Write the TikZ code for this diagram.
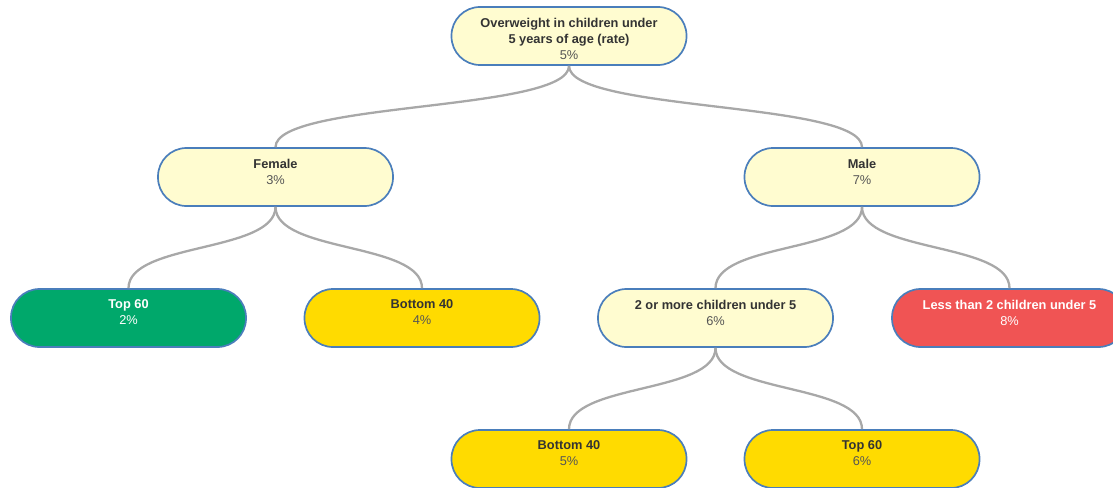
\documentclass[tikz,border=0pt]{standalone}
\usepackage{fontspec}
\setmainfont{Liberation Sans}
\usetikzlibrary{calc}
\definecolor{paleyellow}{RGB}{255,252,208}
\definecolor{edgeblue}{RGB}{74,126,187}
\definecolor{leafgreen}{RGB}{0,168,107}
\definecolor{leafyellow}{RGB}{255,219,0}
\definecolor{leafred}{RGB}{240,84,84}
\definecolor{inkdark}{RGB}{51,51,51}
\definecolor{inkgray}{RGB}{85,85,85}
\definecolor{linkgray}{RGB}{168,168,168}
\tikzset{
  box/.style={draw=edgeblue, line width=1.7pt, rounded corners=28.5pt,
    minimum width=235pt, minimum height=58pt, inner sep=0pt},
  boxpale/.style={box, fill=paleyellow},
  boxgreen/.style={box, fill=leafgreen},
  boxyellow/.style={box, fill=leafyellow},
  boxred/.style={box, fill=leafred},
  lbl/.style={anchor=north, inner sep=0pt, align=center,
    font=\fontsize{12.8pt}{16pt}\selectfont, yshift=-11.5pt},
  link/.style={draw=linkgray, line width=2.3pt},
}
\newcommand{\hd}[1]{\textbf{#1}}
\begin{document}
\begin{tikzpicture}[x=1pt,y=-1pt]
\useasboundingbox (0,0) rectangle (1113,487);
% boxes
\node[boxpale]   (root)  at (569,36)    {};
\node[boxpale]   (fem)   at (275.5,177) {};
\node[boxpale]   (male)  at (862,177)   {};
\node[boxgreen]  (topa)  at (128.5,318) {};
\node[boxyellow] (bota)  at (422,318)   {};
\node[boxpale]   (two)   at (715.5,318) {};
\node[boxred]    (less)  at (1009.5,318) {};
\node[boxyellow] (botb)  at (569,459)   {};
\node[boxyellow] (topb)  at (862,459)   {};
% labels
\node[lbl] (rootT) at (root.north) {\color{inkdark}\hd{Overweight in children under}\\\color{inkdark}\hd{5 years of age (rate)}\\\color{inkgray}5\%};
\node[lbl] (femT)  at (fem.north)  {\color{inkdark}\hd{Female}\\\color{inkgray}3\%};
\node[lbl] (maleT) at (male.north) {\color{inkdark}\hd{Male}\\\color{inkgray}7\%};
\node[lbl] (topaT) at (topa.north) {\color{white}\hd{Top 60}\\\color{white}2\%};
\node[lbl] (botaT) at (bota.north) {\color{inkdark}\hd{Bottom 40}\\\color{inkgray}4\%};
\node[lbl] (twoT)  at (two.north)  {\color{inkdark}\hd{2 or more children under 5}\\\color{inkgray}6\%};
\node[lbl] (lessT) at (less.north) {\color{white}\hd{Less than 2 children under 5}\\\color{white}8\%};
\node[lbl] (botbT) at (botb.north) {\color{inkdark}\hd{Bottom 40}\\\color{inkgray}5\%};
\node[lbl] (topbT) at (topb.north) {\color{inkdark}\hd{Top 60}\\\color{inkgray}6\%};
% connectors
\foreach \p/\c in {root/fem, root/male, fem/topa, fem/bota, male/two, male/less, two/botb, two/topb}{
  \draw[link] (\p.south) .. controls ($(\p.south)+(0,46)$) and ($(\c.north)+(0,-46)$) .. (\c.north);
}
\end{tikzpicture}
\end{document}
